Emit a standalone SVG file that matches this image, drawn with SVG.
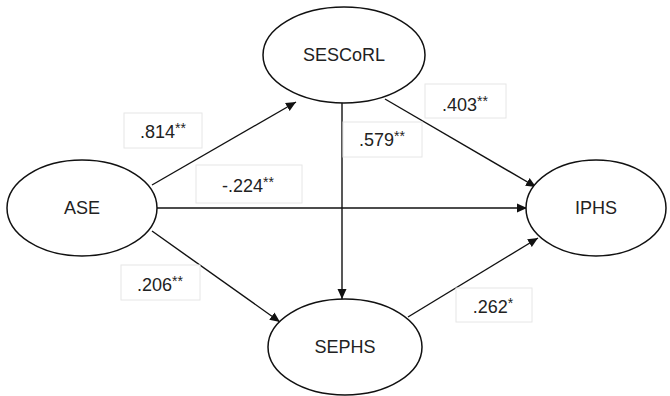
<svg xmlns="http://www.w3.org/2000/svg" width="670" height="396" viewBox="0 0 670 396">
<defs>
<style>
.node ellipse{fill:#fff;stroke:#111;stroke-width:1.5}
.node text{font-family:"Liberation Sans",Arial,sans-serif;font-size:18px;fill:#222;text-anchor:middle}
.edges line{stroke:#111;stroke-width:1.4;marker-end:url(#ah)}
.lbl rect{fill:#fff;stroke:#e6e6e6;stroke-width:1}
.lbl text{font-family:"Liberation Sans",Arial,sans-serif;font-size:18px;fill:#222;text-anchor:middle}
.lbl tspan.s{font-size:14px}
</style>
<marker id="ah" viewBox="0 0 10 10" refX="10" refY="5" markerWidth="10" markerHeight="10" markerUnits="userSpaceOnUse" orient="auto">
<path d="M0,0.5 L10,5 L0,9.5 z" fill="#111"/>
</marker>
</defs>
<rect width="670" height="396" fill="#fff"/>
<g class="edges" id="connectors">
<line x1="152" y1="185" x2="296" y2="102"/>
<line x1="157" y1="208" x2="527" y2="208"/>
<line x1="152" y1="231" x2="280" y2="322"/>
<line x1="342" y1="103" x2="342" y2="299"/>
<line x1="385" y1="99" x2="536" y2="187"/>
<line x1="408" y1="317" x2="538" y2="238"/>
</g>
<g class="node" id="ASE"><ellipse cx="82" cy="208" rx="75" ry="48"/><text x="82" y="214">ASE</text></g>
<g class="node" id="SESCoRL"><ellipse cx="344" cy="55" rx="81" ry="48"/><text x="344" y="61">SESCoRL</text></g>
<g class="node" id="IPHS"><ellipse cx="596" cy="208" rx="70" ry="48"/><text x="596" y="214">IPHS</text></g>
<g class="node" id="SEPHS"><ellipse cx="345" cy="347" rx="77" ry="48"/><text x="345" y="353">SEPHS</text></g>
<g class="lbl" id="labels">
<g><rect x="124" y="113" width="78" height="35"/><text x="163" y="138">.814<tspan class="s" dy="-5">**</tspan></text></g>
<g><rect x="425" y="84" width="81" height="34"/><text x="465" y="111">.403<tspan class="s" dy="-5">**</tspan></text></g>
<g><rect x="343" y="122" width="79" height="35"/><text x="382" y="146">.579<tspan class="s" dy="-5">**</tspan></text></g>
<g><rect x="196" y="165" width="106" height="38"/><text x="248" y="192">-.224<tspan class="s" dy="-5">**</tspan></text></g>
<g><rect x="121" y="265" width="79" height="35"/><text x="160" y="291">.206<tspan class="s" dy="-5">**</tspan></text></g>
<g><rect x="456" y="288" width="76" height="34"/><text x="493" y="313">.262<tspan class="s" dy="-5">*</tspan></text></g>
</g>
</svg>
